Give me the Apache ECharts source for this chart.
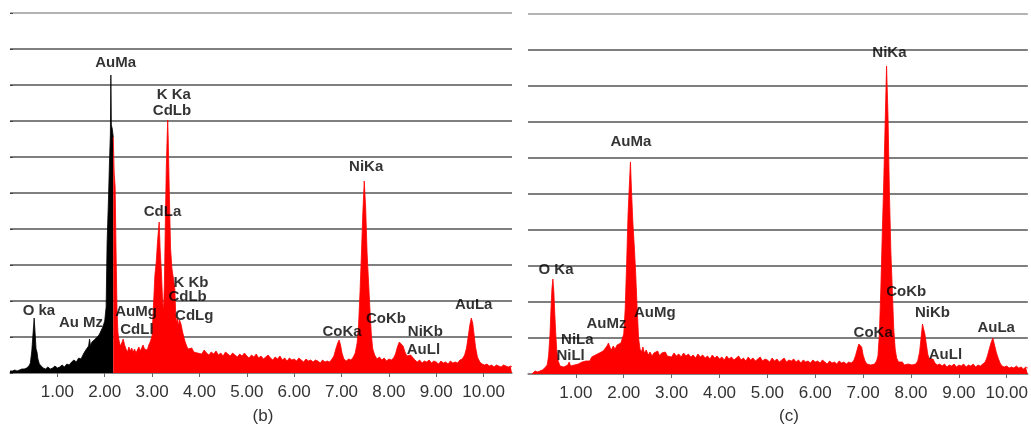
<!DOCTYPE html>
<html>
<head>
<meta charset="utf-8">
<script src="https://cdn.jsdelivr.net/npm/echarts@6/dist/echarts.min.js"></script>
<style>
html,body{margin:0;padding:0;background:#fff;}
#chart{width:1031px;height:427px;}
</style>
</head>
<body>
<div id="chart"></div>
<script>
// ---- Data (energy keV, counts in arbitrary units: 36 per grid division) ----
const xTicks = [1,2,3,4,5,6,7,8,9,10];

// Panel (b): black part of spectrum
const bBlack = [[0.00,2],[0.05,2],[0.10,3],[0.15,2],[0.20,3],[0.25,4],[0.30,4],[0.35,5],[0.40,7],[0.43,10],[0.46,22],[0.48,35],[0.50,48],[0.51,55],[0.53,40],[0.55,24],[0.57,21],[0.59,14],[0.62,9],[0.66,7],[0.70,5],[0.75,4],[0.80,6],[0.85,4],[0.90,5],[0.95,7],[1.00,5],[1.05,6],[1.10,8],[1.15,6],[1.20,9],[1.25,8],[1.30,11],[1.35,13],[1.40,11],[1.45,15],[1.50,14],[1.55,19],[1.60,23],[1.63,21],[1.66,27],[1.68,34],[1.70,27],[1.73,31],[1.76,29],[1.80,34],[1.84,32],[1.88,38],[1.92,40],[1.96,46],[2.00,52],[2.03,66],[2.05,130],[2.08,175],[2.10,210],[2.12,240],[2.13,298],[2.14,248],[2.16,244],[2.18,236]];

// Panel (b): red part of spectrum
const bRed = [[2.18,236],[2.20,200],[2.22,186],[2.24,120],[2.26,62],[2.28,40],[2.30,33],[2.33,27],[2.36,30],[2.39,34],[2.42,28],[2.45,24],[2.48,21],[2.51,26],[2.54,22],[2.57,25],[2.60,21],[2.63,24],[2.66,20],[2.69,23],[2.72,26],[2.75,22],[2.78,25],[2.81,28],[2.84,24],[2.87,26],[2.90,23],[2.93,28],[2.96,31],[3.00,37],[3.03,68],[3.06,98],[3.09,112],[3.11,128],[3.13,140],[3.15,151],[3.17,124],[3.20,98],[3.22,74],[3.24,61],[3.26,88],[3.28,150],[3.30,205],[3.32,238],[3.33,253],[3.34,236],[3.36,190],[3.39,125],[3.42,104],[3.45,95],[3.48,84],[3.50,58],[3.52,50],[3.54,54],[3.56,47],[3.58,53],[3.61,49],[3.64,42],[3.67,36],[3.70,31],[3.73,27],[3.76,24],[3.80,22],[3.84,25],[3.88,21],[3.92,23],[3.96,20],[4.00,22],[4.05,19],[4.10,23],[4.15,20],[4.20,18],[4.25,21],[4.30,19],[4.35,22],[4.40,18],[4.45,20],[4.50,17],[4.55,21],[4.60,19],[4.65,17],[4.70,20],[4.75,18],[4.80,16],[4.85,19],[4.90,17],[4.95,20],[5.00,17],[5.05,15],[5.10,18],[5.15,16],[5.20,19],[5.25,15],[5.30,17],[5.35,14],[5.40,16],[5.45,18],[5.50,15],[5.55,13],[5.60,16],[5.65,14],[5.70,17],[5.75,13],[5.80,15],[5.85,12],[5.90,15],[5.95,13],[6.00,14],[6.05,12],[6.10,15],[6.15,13],[6.20,11],[6.25,14],[6.30,12],[6.35,13],[6.40,11],[6.45,13],[6.50,12],[6.55,10],[6.60,13],[6.65,11],[6.70,12],[6.75,11],[6.80,14],[6.84,17],[6.88,24],[6.92,30],[6.95,33],[6.98,28],[7.01,20],[7.05,14],[7.10,12],[7.15,14],[7.20,13],[7.25,16],[7.29,20],[7.33,30],[7.36,48],[7.39,80],[7.42,118],[7.45,160],[7.48,192],[7.51,165],[7.54,120],[7.57,92],[7.60,64],[7.63,38],[7.66,24],[7.70,18],[7.75,14],[7.80,16],[7.85,13],[7.90,15],[7.95,12],[8.00,14],[8.05,13],[8.10,15],[8.14,19],[8.18,26],[8.22,31],[8.26,33],[8.30,27],[8.34,21],[8.38,17],[8.42,15],[8.46,18],[8.50,16],[8.55,13],[8.60,11],[8.65,13],[8.70,10],[8.75,12],[8.80,11],[8.85,13],[8.90,10],[8.95,12],[9.00,11],[9.05,9],[9.10,12],[9.15,10],[9.20,11],[9.25,9],[9.30,12],[9.35,10],[9.40,11],[9.45,10],[9.50,13],[9.55,14],[9.60,18],[9.64,25],[9.68,38],[9.71,48],[9.74,55],[9.77,50],[9.80,38],[9.83,26],[9.87,16],[9.92,11],[9.97,9],[10.02,8],[10.07,9],[10.12,7],[10.17,8],[10.22,6],[10.27,8],[10.32,7],[10.37,6],[10.42,8],[10.47,7],[10.52,6],[10.57,7],[10.60,6]];

// Panel (c): spectrum
const cRed = [[0.08,0],[0.10,2],[0.15,3],[0.20,2],[0.25,3],[0.30,4],[0.35,6],[0.40,9],[0.43,18],[0.46,40],[0.48,65],[0.50,85],[0.52,95],[0.54,82],[0.56,60],[0.58,40],[0.60,24],[0.63,13],[0.67,8],[0.71,6],[0.75,7],[0.79,6],[0.83,9],[0.86,12],[0.89,8],[0.93,7],[0.97,9],[1.01,8],[1.05,10],[1.09,9],[1.13,12],[1.17,10],[1.21,13],[1.25,15],[1.29,13],[1.33,17],[1.37,15],[1.41,19],[1.45,17],[1.49,21],[1.53,19],[1.57,23],[1.61,22],[1.65,28],[1.68,31],[1.71,27],[1.74,24],[1.78,28],[1.82,25],[1.86,29],[1.90,27],[1.94,31],[1.97,33],[2.00,40],[2.03,65],[2.06,110],[2.09,160],[2.12,192],[2.14,212],[2.16,186],[2.19,152],[2.22,128],[2.25,100],[2.28,66],[2.31,36],[2.34,25],[2.37,22],[2.40,27],[2.43,21],[2.47,24],[2.51,19],[2.55,22],[2.59,18],[2.63,21],[2.67,19],[2.71,23],[2.75,18],[2.79,21],[2.83,19],[2.87,22],[2.91,18],[2.95,20],[3.00,17],[3.05,21],[3.10,18],[3.15,20],[3.20,17],[3.25,21],[3.30,18],[3.35,20],[3.40,17],[3.45,19],[3.50,16],[3.55,20],[3.60,17],[3.65,19],[3.70,16],[3.75,18],[3.80,15],[3.85,19],[3.90,16],[3.95,18],[4.00,15],[4.05,17],[4.10,14],[4.15,18],[4.20,15],[4.25,17],[4.30,14],[4.35,16],[4.40,18],[4.45,14],[4.50,16],[4.55,13],[4.60,17],[4.65,14],[4.70,16],[4.75,13],[4.80,15],[4.85,17],[4.90,13],[4.95,15],[5.00,14],[5.05,12],[5.10,16],[5.15,13],[5.20,15],[5.25,12],[5.30,14],[5.35,16],[5.40,12],[5.45,14],[5.50,13],[5.55,15],[5.60,12],[5.65,14],[5.70,11],[5.75,14],[5.80,12],[5.85,13],[5.90,11],[5.95,14],[6.00,12],[6.05,13],[6.10,11],[6.15,14],[6.20,12],[6.25,10],[6.30,13],[6.35,11],[6.40,12],[6.45,10],[6.50,13],[6.55,11],[6.60,12],[6.65,10],[6.70,12],[6.75,11],[6.80,13],[6.84,18],[6.88,25],[6.91,30],[6.94,32],[6.97,27],[7.00,19],[7.04,13],[7.08,10],[7.12,12],[7.16,9],[7.20,11],[7.24,10],[7.28,13],[7.31,18],[7.34,40],[7.37,85],[7.40,140],[7.43,190],[7.46,250],[7.49,308],[7.52,258],[7.55,180],[7.58,122],[7.61,84],[7.64,45],[7.67,25],[7.70,16],[7.74,12],[7.78,10],[7.82,12],[7.86,9],[7.90,11],[7.94,10],[7.98,12],[8.02,9],[8.06,11],[8.10,10],[8.14,13],[8.18,22],[8.21,36],[8.24,50],[8.26,52],[8.29,40],[8.32,30],[8.35,20],[8.38,15],[8.42,17],[8.46,15],[8.50,11],[8.55,9],[8.60,10],[8.65,8],[8.70,10],[8.75,7],[8.80,9],[8.85,8],[8.90,10],[8.95,7],[9.00,9],[9.05,8],[9.10,10],[9.15,7],[9.20,9],[9.25,8],[9.30,10],[9.35,7],[9.40,9],[9.45,8],[9.50,10],[9.55,12],[9.59,17],[9.63,24],[9.67,31],[9.71,36],[9.74,30],[9.78,22],[9.82,16],[9.86,11],[9.90,8],[9.95,7],[10.00,8],[10.05,6],[10.10,7],[10.15,6],[10.20,8],[10.25,6],[10.30,7],[10.35,5],[10.40,7],[10.44,6]];

// Peak labels, anchored in data coordinates (energy, counts)
const bLabelNames = ['AuMa','K Ka','CdLb','CdLa','NiKa','K Kb','CdLb','O ka','Au Mz','AuMg','CdLl','CdLg','CoKa','CoKb','NiKb','AuLl','AuLa'];
const bLabelE     = [2.23, 3.46, 3.42, 3.22, 7.52, 3.82, 3.75, 0.61, 1.50, 2.66, 2.68, 3.89, 7.01, 7.94, 8.77, 8.73, 9.79];
const bLabelH     = [310,  278,  262,  161,  206,  90,   76,   62,   50,   61,   43,   57,   41,   54,   41,   23,   68];

const cLabelNames = ['NiKa','AuMa','O Ka','CoKb','AuMg','AuMz','NiLa','NiLl','CoKa','NiKb','AuLl','AuLa'];
const cLabelE     = [7.55, 2.15, 0.585, 7.90, 2.65, 1.64, 1.03, 0.89, 7.21, 8.45, 8.72, 9.78];
const cLabelH     = [321,  232,  104,   82,   61,   50,   34,   18,   41,   61,   19,   46];

const panelCaptions = ['(b)', '(c)'];

// ---- Chart ----
const FONT = '"Liberation Sans", Arial, Helvetica, sans-serif';
const gridColors = ['#555','#555','#555','#555','#555','#555','#555','#555','#555','#555','#9a9a9a'];

function mkLabels(names, es, hs) {
  return names.map((n, i) => ({ name: n, value: [es[i], hs[i]] }));
}
function xAxisCfg(idx, max) {
  return {
    gridIndex: idx, type: 'value', min: 0, max: max, interval: 1, offset: 4,
    axisLine: { show: true, lineStyle: { color: '#8a8a8a', width: 1.5 } },
    axisTick: { show: true, length: 4, customValues: xTicks, lineStyle: { color: '#666' } },
    axisLabel: { show: true, customValues: xTicks, margin: 7, fontSize: 17, color: '#333', fontFamily: FONT,
      formatter: v => v.toFixed(2) },
    splitLine: { show: false }
  };
}
function yAxisCfg(idx, pos, ticks) {
  return {
    gridIndex: idx, type: 'value', min: 0, max: 360, interval: 36, position: pos,
    axisLine: { show: false },
    axisTick: { show: ticks, length: 3, lineStyle: { color: '#444' } },
    axisLabel: { show: false },
    splitLine: { show: true, showMinLine: true, lineStyle: { color: gridColors, width: 1.5 } }
  };
}
function areaSeries(xi, data, color) {
  return {
    type: 'line', xAxisIndex: xi, yAxisIndex: xi, data: data, symbol: 'none', smooth: false,
    lineStyle: { color: color, width: 0.8 }, areaStyle: { color: color, opacity: 1 },
    itemStyle: { color: color }, silent: true, animation: false, z: 2
  };
}
function labelSeries(xi, data) {
  return {
    type: 'scatter', xAxisIndex: xi, yAxisIndex: xi, data: data, symbolSize: 1,
    itemStyle: { color: 'rgba(0,0,0,0)' }, z: 5, animation: false, silent: true,
    label: { show: true, position: 'inside', formatter: '{b}', fontFamily: FONT,
      fontWeight: 'bold', fontSize: 15, color: '#000' }
  };
}

const chart = echarts.init(document.getElementById('chart'), null, { renderer: 'canvas' });
chart.setOption({
  animation: false,
  backgroundColor: '#fff',
  title: [
    { text: panelCaptions[0], left: 258, top: 403, textAlign: 'center',
      textStyle: { fontSize: 17, fontWeight: 'normal', color: '#333', fontFamily: FONT } },
    { text: panelCaptions[1], left: 784, top: 403, textAlign: 'center',
      textStyle: { fontSize: 17, fontWeight: 'normal', color: '#333', fontFamily: FONT } }
  ],
  grid: [
    { left: 10, right: 519, top: 13, bottom: 54 },
    { left: 528, right: 0, top: 14, bottom: 53 }
  ],
  xAxis: [ xAxisCfg(0, 10.6), xAxisCfg(1, 10.44) ],
  yAxis: [ yAxisCfg(0, 'right', true), yAxisCfg(1, 'left', false) ],
  series: [
    areaSeries(0, bBlack, '#000000'),
    areaSeries(0, bRed, '#ff0000'),
    areaSeries(1, cRed, '#ff0000'),
    labelSeries(0, mkLabels(bLabelNames, bLabelE, bLabelH)),
    labelSeries(1, mkLabels(cLabelNames, cLabelE, cLabelH))
  ]
});
</script>
</body>
</html>
